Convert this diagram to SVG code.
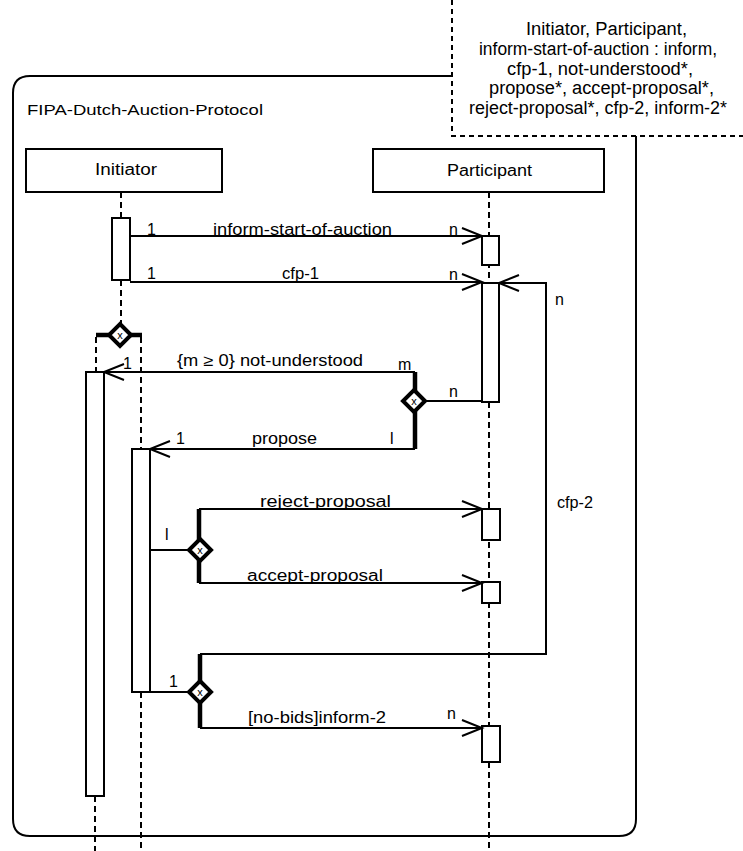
<svg xmlns="http://www.w3.org/2000/svg" width="743" height="851" viewBox="0 0 743 851">
<style>
  .ln{stroke:#000;stroke-width:2;fill:none}
  .dash{stroke:#000;stroke-width:2;fill:none;stroke-dasharray:6,4}
  .ndash{stroke:#000;stroke-width:2;fill:none;stroke-dasharray:5,4}
  .thick{stroke:#000;stroke-width:4.5;fill:none}
  .box{stroke:#000;stroke-width:2;fill:#fff}
  .dia{stroke:#000;stroke-width:4;fill:#fff}
  text{font-family:"Liberation Sans",Arial,sans-serif;fill:#000}
  .t{font-size:16px}
  .n{font-size:18px}
  .x{font-size:11px}
</style>
<defs>
  <marker id="arr" markerUnits="userSpaceOnUse" markerWidth="26" markerHeight="22" viewBox="-23 -11 26 22" refX="0" refY="0" orient="auto">
    <path d="M-20,-8 L0,0 L-20,8" fill="none" stroke="#000" stroke-width="2"/>
  </marker>
</defs>

<g id="frame">
  <path class="ln" d="M452,76 H30 Q13,76 13,93 V819 Q13,836 30,836 H619 Q636,836 636,819 V136"/>
  <text x="27" y="115" style="font-size:15px" textLength="236" lengthAdjust="spacingAndGlyphs">FIPA-Dutch-Auction-Protocol</text>
</g>

<g id="note">
  <path class="ndash" d="M452,0 V136 H743"/>
  <text class="n" x="526" y="35" textLength="161" lengthAdjust="spacingAndGlyphs">Initiator, Participant,</text>
  <text class="n" x="479" y="55" textLength="238" lengthAdjust="spacingAndGlyphs">inform-start-of-auction : inform,</text>
  <text class="n" x="507" y="75" textLength="186" lengthAdjust="spacingAndGlyphs">cfp-1, not-understood*,</text>
  <text class="n" x="489" y="94" textLength="225" lengthAdjust="spacingAndGlyphs">propose*, accept-proposal*,</text>
  <text class="n" x="469" y="114" textLength="258" lengthAdjust="spacingAndGlyphs">reject-proposal*, cfp-2, inform-2*</text>
</g>

<g id="lifelines">
  <path class="dash" d="M121,192 V218 M121,280 V326"/>
  <path class="dash" d="M96,337 V372 M95,796 V851"/>
  <path class="dash" d="M141,337 V449 M141,692 V851"/>
  <path class="dash" d="M489,192 V851"/>
</g>

<g id="initiator">
  <rect class="box" x="26" y="149" width="196" height="43"/>
  <text class="t" x="95" y="175" textLength="62" lengthAdjust="spacingAndGlyphs">Initiator</text>
</g>

<g id="participant">
  <rect class="box" x="373" y="149" width="231" height="43"/>
  <text class="t" x="447" y="176" textLength="85" lengthAdjust="spacingAndGlyphs">Participant</text>
</g>

<g id="activations">
  <rect class="box" x="112" y="218" width="18" height="62"/>
  <rect class="box" x="86" y="372" width="18" height="424"/>
  <rect class="box" x="132" y="449" width="18" height="243"/>
  <rect class="box" x="482" y="236" width="17" height="29"/>
  <rect class="box" x="482" y="283" width="17" height="119"/>
  <rect class="box" x="482" y="509" width="18" height="31"/>
  <rect class="box" x="482" y="582" width="18" height="21"/>
  <rect class="box" x="482" y="726" width="18" height="36"/>
</g>

<g id="decisions">
  <path class="thick" d="M96,335 H142"/>
  <polygon class="dia" points="120,324 131,335 120,346 109,335"/>
  <text class="x" x="120" y="339" text-anchor="middle">x</text>

  <path class="thick" d="M415,372 V449"/>
  <polygon class="dia" points="414,390 425,401 414,412 403,401"/>
  <text class="x" x="414" y="405" text-anchor="middle">x</text>

  <path class="thick" d="M199,509 V583"/>
  <polygon class="dia" points="200,539 211,550 200,561 189,550"/>
  <text class="x" x="200" y="554" text-anchor="middle">x</text>

  <path class="thick" d="M200,654 V728"/>
  <polygon class="dia" points="200,681 211,692 200,703 189,692"/>
  <text class="x" x="200" y="696" text-anchor="middle">x</text>
</g>

<g id="connectors">
  <path class="ln" d="M130,236 H482" marker-end="url(#arr)"/>
  <path class="ln" d="M130,282 H482" marker-end="url(#arr)"/>
  <path class="ln" d="M200,654 H546 V283 H499" marker-end="url(#arr)"/>
  <path class="ln" d="M415,372 H104" marker-end="url(#arr)"/>
  <path class="ln" d="M425,401 H482"/>
  <path class="ln" d="M415,449 H150" marker-end="url(#arr)"/>
  <path class="ln" d="M150,550 H189"/>
  <path class="ln" d="M199,509 H482" marker-end="url(#arr)"/>
  <path class="ln" d="M199,583 H482" marker-end="url(#arr)"/>
  <path class="ln" d="M150,692 H189"/>
  <path class="ln" d="M200,728 H482" marker-end="url(#arr)"/>
</g>

<g id="labels">
  <text class="t" x="147" y="235">1</text>
  <text class="t" x="213" y="235" textLength="179" lengthAdjust="spacingAndGlyphs">inform-start-of-auction</text>
  <text class="t" x="449" y="235">n</text>

  <text class="t" x="147" y="279">1</text>
  <text class="t" x="282" y="279" textLength="37" lengthAdjust="spacingAndGlyphs">cfp-1</text>
  <text class="t" x="449" y="280">n</text>

  <text class="t" x="555" y="305">n</text>
  <text class="t" x="557" y="508" textLength="36" lengthAdjust="spacingAndGlyphs">cfp-2</text>

  <text class="t" x="123" y="369">1</text>
  <text class="t" x="177" y="366" textLength="186" lengthAdjust="spacingAndGlyphs">{m ≥ 0} not-understood</text>
  <text class="t" x="398" y="370">m</text>
  <text class="t" x="449" y="397">n</text>

  <text class="t" x="176" y="444">1</text>
  <text class="t" x="252" y="444" textLength="65" lengthAdjust="spacingAndGlyphs">propose</text>
  <text class="t" x="390" y="444">l</text>

  <text class="t" x="165" y="540">l</text>
  <text class="t" x="260" y="507" textLength="131" lengthAdjust="spacingAndGlyphs">reject-proposal</text>
  <text class="t" x="247" y="581" textLength="136" lengthAdjust="spacingAndGlyphs">accept-proposal</text>

  <text class="t" x="169" y="687">1</text>
  <text class="t" x="248" y="723" textLength="138" lengthAdjust="spacingAndGlyphs">[no-bids]inform-2</text>
  <text class="t" x="447" y="719">n</text>
</g>
</svg>
